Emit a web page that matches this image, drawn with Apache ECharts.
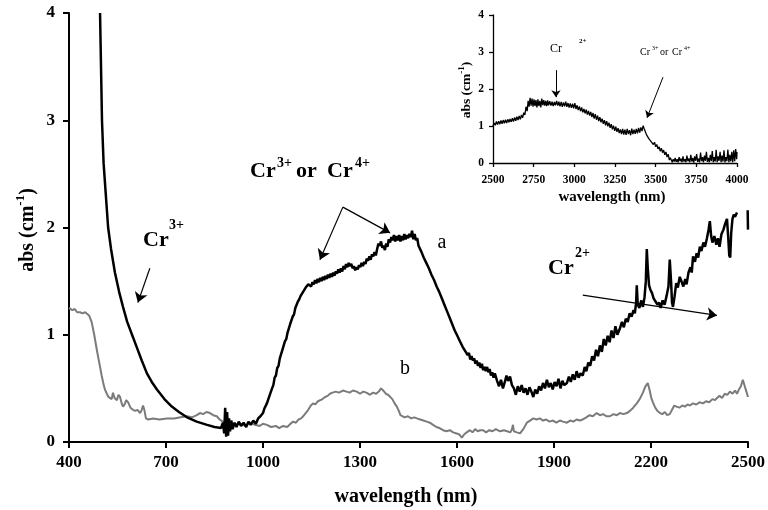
<!DOCTYPE html>
<html>
<head>
<meta charset="utf-8">
<script src="https://cdn.jsdelivr.net/npm/echarts@6/dist/echarts.min.js"></script>
<style>
  html, body { margin: 0; padding: 0; background: #fff; }
  #chart { width: 768px; height: 510px; }
</style>
</head>
<body>
<div id="chart"></div>
<script>
// Axis ticks
const xTicksMain = [400, 700, 1000, 1300, 1600, 1900, 2200, 2500];
const yTicksMain = [0, 1, 2, 3, 4];
const xTicksInset = [2500, 2750, 3000, 3250, 3500, 3750, 4000];
const yTicksInset = [0, 1, 2, 3, 4];

// Spectrum a (black): [wavelength nm, abs cm^-1]
const spectrumA = [
  [496,4.0],[499,3.5],[502,3.0],[507,2.6],[514,2.3],[521,2.0],[530,1.8],[542,1.58],[555,1.40],[567,1.26],
  [580,1.12],[595,1.0],[610,0.88],[625,0.76],[641,0.64],[656,0.56],[672,0.49],[695,0.40],[718,0.33],[740,0.28],
  [765,0.23],[795,0.19],[827,0.16],[850,0.14],[870,0.13],[876,0.18],[880,0.08],[883,0.32],[886,0.05],[889,0.28],
  [892,0.06],[895,0.22],[898,0.10],[902,0.20],[906,0.12],[912,0.18],[918,0.14],[925,0.19],[932,0.15],[940,0.18],
  [948,0.14],[955,0.19],[962,0.16],[970,0.20],[978,0.17],[985,0.22],[992,0.24],
  [1000,0.27],[1004,0.31],[1008,0.30],[1012,0.36],[1016,0.35],[1020,0.43],[1024,0.44],[1028,0.50],[1032,0.53],[1036,0.60],
  [1040,0.62],[1044,0.69],[1048,0.71],[1052,0.78],[1056,0.79],[1060,0.86],[1064,0.87],[1068,0.94],[1072,0.96],[1076,1.02],
  [1080,1.03],[1084,1.10],[1088,1.11],[1092,1.17],[1096,1.19],[1100,1.25],[1104,1.26],[1108,1.31],[1112,1.33],[1116,1.36],
  [1120,1.36],[1124,1.40],[1128,1.41],[1132,1.44],[1136,1.43],[1140,1.47],
  [1145,1.48],[1149,1.45],[1153,1.49],[1157,1.47],[1161,1.51],[1165,1.48],[1169,1.52],[1173,1.49],[1177,1.53],[1181,1.50],
  [1185,1.54],[1189,1.51],[1193,1.55],[1197,1.52],[1201,1.56],[1205,1.53],[1209,1.57],[1213,1.54],[1217,1.58],[1221,1.55],
  [1225,1.59],[1229,1.57],[1233,1.61],[1237,1.58],[1241,1.62],[1245,1.59],[1249,1.64],[1253,1.61],[1257,1.66],[1261,1.63],
  [1265,1.67],[1269,1.64],[1273,1.66],[1277,1.62],[1281,1.64],[1285,1.60],[1289,1.63],[1293,1.61],[1297,1.65],[1301,1.63],
  [1305,1.67],[1309,1.64],[1313,1.68],[1317,1.66],[1321,1.71],[1325,1.69],[1329,1.73],[1333,1.70],[1337,1.75],[1341,1.73],
  [1345,1.77],[1349,1.74],[1353,1.80],[1357,1.85],[1361,1.83],[1365,1.87],[1369,1.81],[1373,1.83],[1377,1.79],[1381,1.85],
  [1385,1.82],[1389,1.89],[1393,1.86],[1397,1.91],[1401,1.88],[1405,1.93],[1409,1.87],[1413,1.92],[1417,1.88],[1421,1.93],
  [1425,1.87],[1429,1.92],[1433,1.88],[1437,1.94],[1441,1.89],[1445,1.93],[1449,1.90],[1453,1.94],[1457,1.91],[1461,1.97],
  [1465,1.89],[1469,1.94],[1473,1.88],[1477,1.90],[1481,1.83],[1485,1.84],[1489,1.78],[1493,1.78],[1497,1.72],[1501,1.73],
  [1505,1.67],[1509,1.68],[1513,1.62],[1517,1.62],[1521,1.56],[1525,1.57],[1529,1.51],[1533,1.51],[1537,1.45],[1541,1.46],
  [1545,1.40],[1549,1.40],[1553,1.34],[1557,1.34],[1561,1.28],[1565,1.28],[1569,1.22],[1573,1.22],[1577,1.16],[1581,1.16],
  [1585,1.10],[1589,1.10],[1593,1.04],[1597,1.05],[1601,0.99],[1605,1.00],[1609,0.94],[1613,0.95],[1617,0.89],[1621,0.90],
  [1625,0.85],[1629,0.86],[1633,0.81],[1637,0.83],[1641,0.77],[1645,0.80],[1649,0.76],[1653,0.78],[1657,0.73],[1661,0.76],
  [1665,0.71],[1669,0.74],[1673,0.69],[1677,0.73],[1681,0.67],[1685,0.70],[1689,0.66],[1693,0.70],[1697,0.65],[1701,0.68],
  [1705,0.62],[1709,0.65],[1713,0.60],[1717,0.64],[1724,0.57],[1730,0.52],[1736,0.58],[1742,0.50],[1748,0.56],[1753,0.62],
  [1758,0.57],[1764,0.61],[1770,0.53],[1776,0.50],[1782,0.44],[1788,0.52],[1794,0.47],[1800,0.53],[1806,0.46],[1812,0.50],
  [1818,0.44],[1824,0.51],[1830,0.47],[1836,0.42],[1842,0.49],[1848,0.45],[1854,0.52],[1860,0.48],[1866,0.55],[1872,0.50],
  [1878,0.58],[1884,0.51],[1890,0.55],[1896,0.49],[1902,0.56],[1908,0.52],[1914,0.59],[1920,0.50],[1926,0.57],[1932,0.53],
  [1940,0.55],[1946,0.61],[1952,0.56],[1958,0.63],[1964,0.58],[1970,0.66],[1976,0.60],[1982,0.64],[1989,0.62],[1995,0.70],
  [2000,0.66],[2006,0.74],[2012,0.71],[2018,0.80],[2024,0.76],[2030,0.86],[2036,0.80],[2042,0.90],[2048,0.84],[2054,0.96],
  [2060,0.90],[2066,0.99],[2072,0.93],[2078,1.04],[2084,0.97],[2090,1.08],[2096,1.00],[2104,1.06],[2110,1.12],[2116,1.07],
  [2122,1.15],[2128,1.12],[2134,1.20],[2140,1.17],[2146,1.23],[2150,1.20],[2154,1.30],[2156,1.46],[2159,1.28],[2164,1.25],
  [2170,1.32],[2175,1.26],[2180,1.35],[2184,1.50],[2187,1.80],[2190,1.62],[2194,1.46],[2198,1.42],[2203,1.39],[2208,1.34],
  [2214,1.31],[2220,1.28],[2225,1.30],[2230,1.25],[2236,1.32],[2242,1.28],[2248,1.36],[2254,1.45],[2258,1.70],[2262,1.50],
  [2265,1.30],[2268,1.26],[2273,1.36],[2278,1.48],[2283,1.44],[2289,1.54],[2294,1.50],[2300,1.45],[2306,1.52],[2310,1.47],
  [2316,1.58],[2322,1.63],[2326,1.58],[2330,1.73],[2336,1.68],[2341,1.76],[2346,1.72],[2351,1.82],[2356,1.78],[2362,1.86],
  [2367,1.82],[2373,1.90],[2378,1.98],[2382,2.06],[2386,1.92],[2390,1.86],[2396,1.92],[2402,1.84],[2407,1.90],[2412,1.82],
  [2418,1.94],[2424,1.98],[2430,2.04],[2435,2.08],[2439,1.90],[2442,1.74],[2445,1.72],[2448,1.95],[2452,2.08],[2456,2.12],
  [2460,2.10],[2466,2.14],[2485,'-'],[2499,2.16],[2500,1.98]
];

// Spectrum b (grey)
const spectrumB = [
  [400,1.25],[410,1.23],[418,1.24],[425,1.21],[434,1.21],[442,1.20],[450,1.21],[456,1.22],[462,1.18],[470,1.12],
  [478,1.00],[486,0.86],[491,0.78],[496,0.70],[501,0.62],[506,0.55],[511,0.49],[517,0.45],[522,0.42],[527,0.43],
  [532,0.40],[536,0.46],[541,0.41],[548,0.39],[553,0.44],[558,0.42],[563,0.36],[567,0.33],[572,0.35],[577,0.39],
  [583,0.37],[590,0.32],[598,0.30],[605,0.29],[612,0.30],[620,0.27],[625,0.30],[629,0.34],[633,0.30],[638,0.22],
  [645,0.21],[660,0.22],[680,0.21],[703,0.22],[725,0.22],[745,0.23],[765,0.24],[780,0.23],[795,0.25],[805,0.27],
  [815,0.26],[825,0.28],[836,0.27],[846,0.25],[857,0.24],[866,0.21],[876,0.19],[888,0.18],[900,0.17],[915,0.16],
  [930,0.17],[945,0.15],[960,0.18],[975,0.16],[990,0.15],[1000,0.17],[1012,0.16],[1025,0.14],[1040,0.15],[1050,0.13],
  [1062,0.15],[1075,0.14],[1085,0.17],[1093,0.19],[1102,0.18],[1110,0.21],[1118,0.22],[1124,0.24],[1132,0.27],[1140,0.30],
  [1148,0.34],[1155,0.36],[1162,0.35],[1170,0.38],[1176,0.39],[1184,0.40],[1192,0.42],[1200,0.43],[1207,0.45],[1215,0.46],
  [1225,0.47],[1235,0.46],[1247,0.48],[1258,0.47],[1268,0.46],[1278,0.48],[1290,0.47],[1300,0.45],[1310,0.47],[1320,0.46],
  [1331,0.44],[1340,0.46],[1350,0.45],[1358,0.47],[1365,0.50],[1372,0.48],[1380,0.45],[1387,0.44],[1393,0.43],[1400,0.40],
  [1407,0.36],[1414,0.33],[1420,0.29],[1425,0.25],[1429,0.24],[1438,0.23],[1448,0.24],[1458,0.22],[1468,0.23],[1476,0.22],
  [1486,0.21],[1496,0.20],[1506,0.19],[1516,0.18],[1526,0.16],[1536,0.14],[1546,0.13],[1557,0.11],[1567,0.10],[1578,0.11],
  [1588,0.09],[1599,0.08],[1607,0.07],[1615,0.04],[1622,0.07],[1630,0.09],[1640,0.11],[1648,0.09],[1656,0.12],[1664,0.10],
  [1672,0.11],[1681,0.11],[1690,0.09],[1700,0.11],[1710,0.10],[1720,0.12],[1733,0.10],[1745,0.11],[1755,0.10],[1765,0.09],
  [1770,0.12],[1773,0.16],[1776,0.10],[1785,0.09],[1795,0.08],[1805,0.12],[1816,0.18],[1826,0.20],[1836,0.22],[1846,0.21],
  [1856,0.22],[1866,0.20],[1876,0.21],[1886,0.19],[1897,0.20],[1907,0.18],[1918,0.20],[1928,0.19],[1940,0.18],[1950,0.20],
  [1960,0.19],[1970,0.21],[1980,0.20],[1989,0.21],[2000,0.23],[2010,0.25],[2020,0.24],[2032,0.27],[2042,0.25],[2052,0.26],
  [2062,0.24],[2073,0.24],[2084,0.26],[2094,0.25],[2104,0.27],[2115,0.26],[2125,0.27],[2135,0.29],[2145,0.32],[2156,0.36],
  [2165,0.40],[2175,0.46],[2183,0.52],[2190,0.55],[2196,0.48],[2201,0.41],[2206,0.37],[2213,0.32],[2220,0.29],[2228,0.27],
  [2235,0.26],[2243,0.28],[2250,0.25],[2258,0.26],[2265,0.30],[2272,0.34],[2279,0.33],[2288,0.32],[2297,0.34],[2305,0.33],
  [2313,0.35],[2320,0.34],[2330,0.36],[2340,0.35],[2350,0.37],[2361,0.36],[2370,0.38],[2380,0.37],[2390,0.40],[2398,0.39],
  [2404,0.41],[2412,0.43],[2420,0.41],[2428,0.45],[2436,0.44],[2444,0.47],[2452,0.45],[2460,0.48],[2466,0.45],[2472,0.49],
  [2478,0.52],[2484,0.58],[2490,0.52],[2495,0.47],[2500,0.42]
];

// Mid-infrared spectrum (inset)
const spectrumIR = [
  [2500,1.00],[2507,1.08],[2514,1.02],[2521,1.12],[2528,1.04],[2535,1.13],[2542,1.05],[2549,1.15],[2556,1.06],[2563,1.16],
  [2570,1.07],[2577,1.17],[2584,1.08],[2591,1.18],[2598,1.10],[2605,1.19],[2612,1.11],[2619,1.21],[2626,1.12],[2633,1.23],
  [2640,1.14],[2647,1.25],[2654,1.16],[2661,1.27],[2668,1.18],[2675,1.30],[2682,1.22],[2689,1.36],[2696,1.30],[2703,1.52],
  [2710,1.40],[2716,1.68],[2722,1.52],[2728,1.76],[2734,1.55],[2740,1.74],[2746,1.52],[2752,1.72],[2758,1.54],[2764,1.70],
  [2770,1.50],[2776,1.72],[2782,1.54],[2788,1.68],[2794,1.50],[2800,1.74],[2806,1.56],[2812,1.70],[2818,1.55],[2824,1.68],
  [2830,1.54],[2836,1.69],[2842,1.56],[2849,1.67],[2856,1.55],[2863,1.66],[2870,1.54],[2877,1.65],[2884,1.56],[2891,1.68],
  [2898,1.55],[2905,1.66],[2912,1.53],[2919,1.65],[2926,1.52],[2933,1.64],[2940,1.53],[2947,1.66],[2954,1.52],[2961,1.62],
  [2968,1.50],[2975,1.61],[2982,1.49],[2989,1.60],[2996,1.48],[3003,1.62],[3010,1.46],[3017,1.56],[3024,1.43],[3031,1.53],
  [3038,1.40],[3045,1.50],[3052,1.37],[3059,1.46],[3066,1.34],[3073,1.44],[3080,1.31],[3087,1.41],[3094,1.28],[3101,1.38],
  [3108,1.24],[3115,1.35],[3122,1.20],[3129,1.32],[3136,1.17],[3143,1.28],[3150,1.13],[3157,1.24],[3164,1.10],[3171,1.20],
  [3178,1.06],[3185,1.16],[3192,1.02],[3199,1.13],[3206,0.99],[3213,1.09],[3220,0.95],[3227,1.05],[3234,0.91],[3241,1.01],
  [3248,0.87],[3255,0.98],[3262,0.84],[3269,0.94],[3276,0.81],[3283,0.91],[3290,0.78],[3297,0.92],[3304,0.77],[3311,0.90],
  [3318,0.76],[3325,0.92],[3332,0.78],[3339,0.89],[3346,0.75],[3353,0.93],[3360,0.78],[3367,0.90],[3374,0.79],[3381,0.92],
  [3388,0.80],[3395,0.95],[3402,0.82],[3409,0.96],[3416,0.86],[3423,1.01],[3430,0.92],[3437,0.88],[3444,0.76],[3451,0.78],
  [3458,0.66],[3465,0.70],[3472,0.58],[3479,0.62],[3486,0.50],[3493,0.56],[3500,0.44],[3507,0.50],[3514,0.38],[3521,0.44],
  [3528,0.32],[3535,0.40],[3542,0.28],[3549,0.35],[3556,0.22],[3563,0.30],[3570,0.16],[3577,0.24],[3584,0.08],[3590,0.14],
  [3596,0.12],[3602,0.02],[3608,0.10],[3614,0.04],[3620,0.14],[3626,0.03],[3632,0.10],[3638,0.02],[3644,0.16],[3650,0.05],
  [3656,0.12],[3662,0.02],[3668,0.18],[3674,0.04],[3680,0.10],[3686,0.02],[3692,0.20],[3698,0.05],[3704,0.12],[3710,0.02],
  [3716,0.22],[3722,0.04],[3728,0.14],[3734,0.01],[3740,0.18],[3746,0.06],[3752,0.24],[3758,0.03],[3764,0.12],[3770,0.02],
  [3776,0.28],[3782,0.05],[3788,0.16],[3794,0.02],[3800,0.20],[3806,0.06],[3812,0.30],[3818,0.03],[3824,0.14],[3830,0.02],
  [3836,0.22],[3842,0.05],[3848,0.32],[3854,0.02],[3860,0.16],[3866,0.04],[3872,0.36],[3878,0.02],[3884,0.18],[3890,0.06],
  [3896,0.30],[3902,0.02],[3908,0.20],[3914,0.04],[3920,0.34],[3926,0.02],[3932,0.16],[3938,0.05],[3944,0.36],[3950,0.02],
  [3956,0.22],[3962,0.04],[3968,0.30],[3974,0.02],[3980,0.34],[3986,0.05],[3992,0.38],[3998,0.10],[4000,0.30]
];

// Annotation arrows, in data coordinates: [from, to]
const arrowsMain = [
  [[650, 1.62], [613, 1.30]],
  [[1247, 2.19], [1176, 1.70]],
  [[1247, 2.19], [1393, 1.95]],
  [[1989, 1.37], [2404, 1.18]]
];
const arrowsInset = [
  [[2887, 2.51], [2887, 1.78]],
  [[3545, 2.32], [3447, 1.22]]
];

const SERIF = '"Liberation Serif", "Times New Roman", serif';

function axisRange(ticks) {
  return { min: ticks[0], max: ticks[ticks.length - 1], interval: ticks[1] - ticks[0] };
}

function valueAxis(ticks, gridIndex, opts) {
  const r = axisRange(ticks);
  return {
    type: 'value', gridIndex: gridIndex,
    min: r.min, max: r.max, interval: r.interval,
    axisLine: { show: true, onZero: false, lineStyle: { color: '#000', width: opts.lineWidth } },
    axisTick: { show: true, inside: false, length: opts.tickLen, lineStyle: { color: '#000', width: opts.lineWidth } },
    axisLabel: {
      show: true, color: '#000', fontFamily: SERIF, fontWeight: 'bold',
      fontSize: opts.fontSize, margin: opts.margin,
      formatter: v => String(v)
    },
    splitLine: { show: false }
  };
}

function arrowLines(list, size, width) {
  return {
    silent: true,
    symbol: ['none', 'arrow'],
    symbolSize: size,
    label: { show: false },
    lineStyle: { color: '#000', width: width, type: 'solid' },
    emphasis: { disabled: true },
    data: list.map(a => [{ coord: a[0] }, { coord: a[1] }])
  };
}

function txt(x, y, text, size, bold, align) {
  return {
    type: 'text', x: x, y: y, silent: true,
    style: {
      text: text, fill: '#000',
      font: (bold ? 'bold ' : '') + size + 'px ' + SERIF,
      align: align || 'left', verticalAlign: 'middle',
      textAlign: align || 'left', textVerticalAlign: 'middle'
    }
  };
}

function rotatedTitle(x, y, size, supSize) {
  return {
    type: 'text', x: x, y: y, rotation: Math.PI / 2, silent: true,
    style: {
      text: '{a|abs (cm}{s|-1}{a|)}',
      align: 'center', verticalAlign: 'middle',
      textAlign: 'center', textVerticalAlign: 'middle',
      rich: {
        a: { fontFamily: SERIF, fontWeight: 'bold', fontSize: size, color: '#000', lineHeight: size * 1.2, verticalAlign: 'bottom' },
        s: { fontFamily: SERIF, fontWeight: 'bold', fontSize: supSize, color: '#000', lineHeight: size * 1.2, verticalAlign: 'top' }
      }
    }
  };
}

const chart = echarts.init(document.getElementById('chart'), null, { renderer: 'canvas' });

chart.setOption({
  animation: false,
  backgroundColor: '#fff',
  grid: [
    { left: 69, right: 20, top: 13, bottom: 68 },
    { left: 493, right: 31, top: 15, bottom: 347 }
  ],
  xAxis: [
    valueAxis(xTicksMain, 0, { lineWidth: 2, tickLen: 6, fontSize: 17, margin: 12 }),
    valueAxis(xTicksInset, 1, { lineWidth: 1.3, tickLen: 4, fontSize: 11.5, margin: 11 })
  ],
  yAxis: [
    valueAxis(yTicksMain, 0, { lineWidth: 2, tickLen: 6, fontSize: 17, margin: 14 }),
    valueAxis(yTicksInset, 1, { lineWidth: 1.3, tickLen: 4, fontSize: 11.5, margin: 9 })
  ],
  series: [
    {
      name: 'b', type: 'line', xAxisIndex: 0, yAxisIndex: 0, data: spectrumB,
      showSymbol: false, silent: true, z: 2,
      lineStyle: { color: '#7b7b7b', width: 2 }
    },
    {
      name: 'a', type: 'line', xAxisIndex: 0, yAxisIndex: 0, data: spectrumA,
      showSymbol: false, silent: true, z: 3, connectNulls: false,
      lineStyle: { color: '#000', width: 2.5 },
      markLine: arrowLines(arrowsMain, 10, 1.2)
    },
    {
      name: 'IR', type: 'line', xAxisIndex: 1, yAxisIndex: 1, data: spectrumIR,
      showSymbol: false, silent: true, z: 3,
      lineStyle: { color: '#000', width: 1.3 },
      markLine: arrowLines(arrowsInset, 7, 1)
    }
  ],
  graphic: [
    // axis titles
    rotatedTitle(26, 230, 20, 13),
    txt(406, 497, 'wavelength (nm)', 20, true, 'center'),
    rotatedTitle(465, 90, 13.5, 9),
    txt(612, 197, 'wavelength (nm)', 15, true, 'center'),
    // main plot annotations
    txt(143, 240, 'Cr', 22, true),
    txt(169, 225, '3+', 14, true),
    txt(250, 171, 'Cr', 22, true),
    txt(277, 163, '3+', 14, true),
    txt(296, 171, 'or', 22, true),
    txt(327, 171, 'Cr', 22, true),
    txt(355, 163, '4+', 14, true),
    txt(548, 268, 'Cr', 22, true),
    txt(575, 253, '2+', 14, true),
    txt(442, 243, 'a', 20, false, 'center'),
    txt(405, 369, 'b', 20, false, 'center'),
    // inset annotations
    txt(550, 49, 'Cr', 12, false),
    txt(579, 41, '2+', 7, true),
    txt(640, 52, 'Cr', 10, false),
    txt(652, 48, '3+', 6, false),
    txt(660, 52, 'or', 10, false),
    txt(672, 52, 'Cr', 10, false),
    txt(684, 48, '4+', 6, false)
  ]
});
</script>
</body>
</html>
